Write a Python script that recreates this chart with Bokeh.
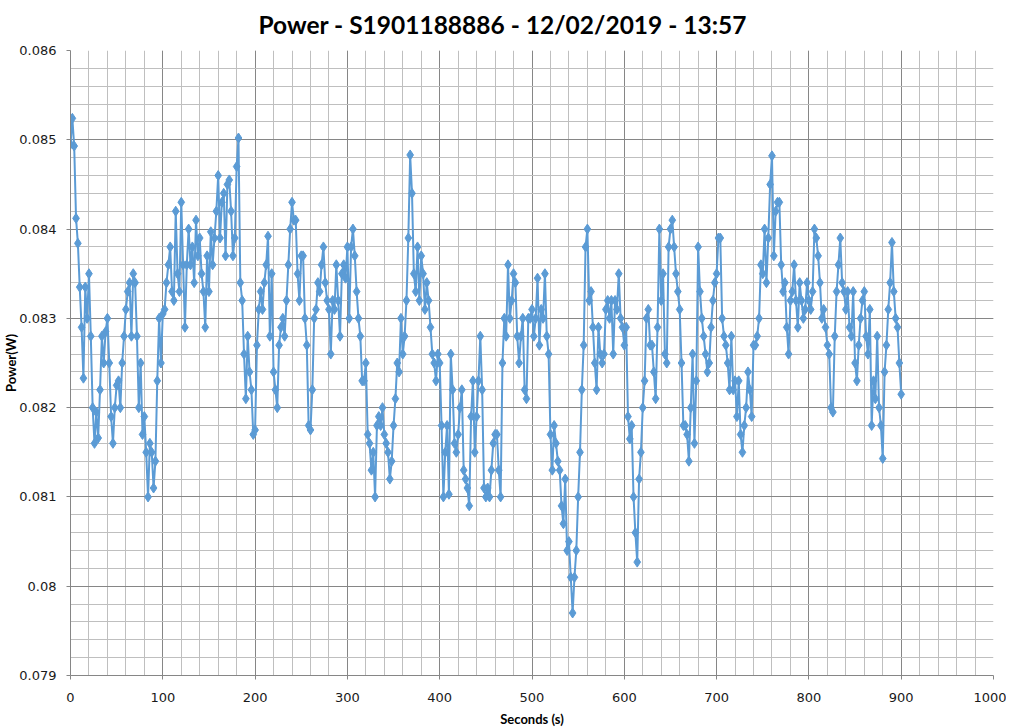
from bokeh.plotting import figure
from bokeh.models import FixedTicker, Range1d, CustomJSTickFormatter
from bokeh.embed import file_html
from bokeh.resources import INLINE

# ---- data ----
power_000 = [0.08495, 0.08524, 0.08493, 0.08412, 0.08384, 0.08335, 0.08290, 0.08233, 0.08335, 0.08300,
             0.08350, 0.08280, 0.08200, 0.08160, 0.08195, 0.08166, 0.08220, 0.08280, 0.08250, 0.08285,
             0.08300, 0.08250, 0.08190, 0.08160, 0.08200, 0.08225, 0.08230, 0.08200, 0.08250, 0.08280,
             0.08310, 0.08330, 0.08340, 0.08280, 0.08350, 0.08340, 0.08280, 0.08200, 0.08250, 0.08170,
             0.08190, 0.08150, 0.08100, 0.08160, 0.08150, 0.08110, 0.08140, 0.08230, 0.08300, 0.08250]
power_100 = [0.08305, 0.08310, 0.08340, 0.08360, 0.08380, 0.08330, 0.08320, 0.08420, 0.08350, 0.08330,
             0.08430, 0.08360, 0.08290, 0.08360, 0.08400, 0.08360, 0.08380, 0.08340, 0.08410, 0.08370,
             0.08390, 0.08350, 0.08330, 0.08290, 0.08370, 0.08330, 0.08397, 0.08360, 0.08390, 0.08420,
             0.08460, 0.08390, 0.08430, 0.08440, 0.08370, 0.08450, 0.08455, 0.08420, 0.08370, 0.08390,
             0.08470, 0.08502, 0.08340, 0.08320, 0.08260, 0.08210, 0.08280, 0.08240, 0.08220, 0.08170]
power_200 = [0.08175, 0.08270, 0.08310, 0.08330, 0.08310, 0.08340, 0.08360, 0.08392, 0.08280, 0.08350,
             0.08240, 0.08220, 0.08200, 0.08270, 0.08290, 0.08300, 0.08280, 0.08320, 0.08360, 0.08400,
             0.08430, 0.08410, 0.08410, 0.08350, 0.08320, 0.08370, 0.08370, 0.08300, 0.08270, 0.08180,
             0.08175, 0.08220, 0.08300, 0.08310, 0.08340, 0.08330, 0.08360, 0.08380, 0.08340, 0.08320,
             0.08310, 0.08260, 0.08320, 0.08310, 0.08360, 0.08320, 0.08280, 0.08350, 0.08360, 0.08345]
power_300 = [0.08380, 0.08300, 0.08380, 0.08400, 0.08370, 0.08330, 0.08300, 0.08280, 0.08230, 0.08230,
             0.08250, 0.08170, 0.08160, 0.08130, 0.08150, 0.08100, 0.08180, 0.08190, 0.08180, 0.08200,
             0.08170, 0.08160, 0.08150, 0.08120, 0.08140, 0.08180, 0.08210, 0.08250, 0.08240, 0.08300,
             0.08260, 0.08280, 0.08320, 0.08390, 0.08483, 0.08440, 0.08350, 0.08330, 0.08380, 0.08320,
             0.08370, 0.08350, 0.08310, 0.08340, 0.08320, 0.08290, 0.08260, 0.08250, 0.08230, 0.08260]
power_400 = [0.08250, 0.08180, 0.08100, 0.08150, 0.08180, 0.08103, 0.08260, 0.08220, 0.08160, 0.08150,
             0.08170, 0.08200, 0.08220, 0.08130, 0.08120, 0.08110, 0.08090, 0.08190, 0.08230, 0.08150,
             0.08190, 0.08230, 0.08280, 0.08220, 0.08110, 0.08100, 0.08110, 0.08100, 0.08130, 0.08160,
             0.08170, 0.08170, 0.08130, 0.08100, 0.08250, 0.08300, 0.08280, 0.08360, 0.08300, 0.08320,
             0.08350, 0.08340, 0.08280, 0.08250, 0.08280, 0.08300, 0.08220, 0.08210, 0.08300, 0.08300]
power_500 = [0.08310, 0.08280, 0.08300, 0.08345, 0.08270, 0.08310, 0.08300, 0.08350, 0.08280, 0.08260,
             0.08170, 0.08130, 0.08180, 0.08160, 0.08140, 0.08130, 0.08090, 0.08070, 0.08120, 0.08040,
             0.08050, 0.08010, 0.07970, 0.08010, 0.08040, 0.08100, 0.08150, 0.08220, 0.08270, 0.08380,
             0.08400, 0.08320, 0.08330, 0.08290, 0.08250, 0.08220, 0.08290, 0.08260, 0.08250, 0.08260,
             0.08310, 0.08320, 0.08300, 0.08320, 0.08260, 0.08320, 0.08310, 0.08350, 0.08300, 0.08290]
power_600 = [0.08270, 0.08290, 0.08190, 0.08165, 0.08180, 0.08100, 0.08060, 0.08027, 0.08120, 0.08150,
             0.08200, 0.08230, 0.08300, 0.08310, 0.08270, 0.08270, 0.08240, 0.08210, 0.08290, 0.08400,
             0.08320, 0.08350, 0.08260, 0.08250, 0.08380, 0.08400, 0.08410, 0.08380, 0.08350, 0.08330,
             0.08310, 0.08250, 0.08180, 0.08180, 0.08170, 0.08140, 0.08200, 0.08260, 0.08160, 0.08230,
             0.08380, 0.08330, 0.08300, 0.08280, 0.08260, 0.08240, 0.08250, 0.08290, 0.08320, 0.08340]
power_700 = [0.08350, 0.08390, 0.08390, 0.08300, 0.08280, 0.08270, 0.08250, 0.08220, 0.08280, 0.08220,
             0.08230, 0.08190, 0.08230, 0.08170, 0.08150, 0.08180, 0.08200, 0.08240, 0.08220, 0.08190,
             0.08270, 0.08270, 0.08280, 0.08300, 0.08360, 0.08350, 0.08400, 0.08340, 0.08390, 0.08450,
             0.08482, 0.08370, 0.08420, 0.08430, 0.08430, 0.08360, 0.08330, 0.08340, 0.08290, 0.08260,
             0.08320, 0.08330, 0.08360, 0.08320, 0.08290, 0.08340, 0.08320, 0.08300, 0.08310, 0.08340]
power_800 = [0.08320, 0.08310, 0.08330, 0.08400, 0.08390, 0.08370, 0.08340, 0.08300, 0.08310, 0.08290,
             0.08270, 0.08260, 0.08200, 0.08195, 0.08280, 0.08330, 0.08360, 0.08390, 0.08340, 0.08330,
             0.08310, 0.08330, 0.08290, 0.08280, 0.08330, 0.08250, 0.08230, 0.08270, 0.08300, 0.08320,
             0.08330, 0.08280, 0.08260, 0.08310, 0.08180, 0.08230, 0.08210, 0.08280, 0.08200, 0.08180,
             0.08143, 0.08240, 0.08270, 0.08310, 0.08340, 0.08385, 0.08330, 0.08300, 0.08290, 0.08250,
             0.08215]

power = (power_000 + power_100 + power_200 + power_300 + power_400 +
         power_500 + power_600 + power_700 + power_800)
sample_step_s = 2
seconds = [i * sample_step_s for i in range(len(power))]

x_ticks = [0, 100, 200, 300, 400, 500, 600, 700, 800, 900, 1000]
y_ticks = [0.079, 0.080, 0.081, 0.082, 0.083, 0.084, 0.085, 0.086]
title_text = "Power - S1901188886 - 12/02/2019 - 13:57"
x_label = "Seconds (s)"
y_label = "Power(W)"

# ---- figure ----
FRAME_W, FRAME_H = 923, 625
x_minor = [x_ticks[0] + 20 * i for i in range(51)]
y_minor = [round(y_ticks[0] + 0.0002 * i, 5) for i in range(36)]

p = figure(frame_width=FRAME_W, frame_height=FRAME_H,
           x_range=Range1d(0, 1000), y_range=Range1d(0.079, 0.086),
           output_backend="svg", toolbar_location=None,
           min_border_left=64, min_border_right=13, min_border_top=50, min_border_bottom=46,
           background_fill_color="white", border_fill_color="white")
p.outline_line_color = None

p.title.text = title_text
p.title.align = "left"
p.title.offset = 188
p.title.vertical_align = "top"
p.title.text_font = "Lato"
p.title.text_font_style = "bold"
p.title.text_font_size = "24.5px"
p.title.text_line_height = 0.8
p.title.text_color = "black"
p.title.standoff = 19

GRID_MAJOR = "#868686"
GRID_MINOR = "#BFBFBF"

for ax, ticks, minor in ((p.xaxis[0], x_ticks, x_minor), (p.yaxis[0], y_ticks, y_minor)):
    ax.ticker = FixedTicker(ticks=ticks, minor_ticks=minor)
    ax.axis_line_color = GRID_MAJOR
    ax.major_tick_line_color = GRID_MAJOR
    ax.major_tick_out = 4
    ax.major_tick_in = 0
    ax.minor_tick_line_color = None
    ax.major_label_text_font = "DejaVu Sans"
    ax.major_label_text_font_size = "13px"
    ax.major_label_text_color = "#1a1a1a"
    ax.axis_label_text_font = "Lato"
    ax.axis_label_text_font_style = "bold"
    ax.axis_label_text_font_size = "13px"
    ax.axis_label_text_color = "black"

p.xaxis.axis_label = x_label
p.yaxis.axis_label = y_label
p.yaxis.formatter = CustomJSTickFormatter(code="return String(tick);")
p.yaxis.major_label_standoff = 10
p.yaxis.axis_label_standoff = -3
p.xaxis.major_label_standoff = 13
p.xaxis.axis_label_standoff = 6

for g in (p.xgrid[0], p.ygrid[0]):
    g.grid_line_color = GRID_MAJOR
    g.grid_line_width = 1
    g.minor_grid_line_color = GRID_MINOR
    g.minor_grid_line_width = 1

BLUE = "#5B9BD5"
p.line(seconds, power, line_color=BLUE, line_width=2)
p.scatter(seconds, power, marker="diamond", size=10, fill_color=BLUE, line_color=BLUE)

open("out.html", "w").write(file_html(p, INLINE))
